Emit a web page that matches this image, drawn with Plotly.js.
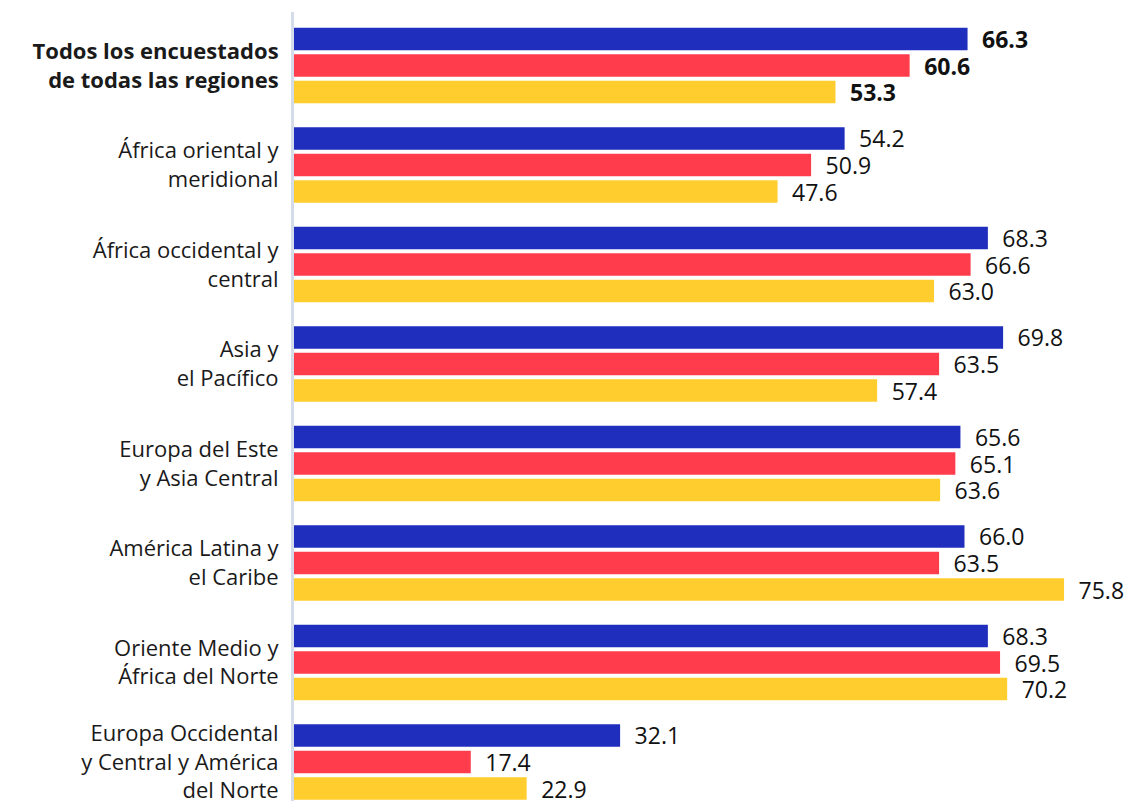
<!DOCTYPE html>
<html><head><meta charset="utf-8">
<script src="https://cdn.plot.ly/plotly-3.0.1.min.js"></script>
<style>html,body{margin:0;padding:0;background:#fff}</style>
</head><body>
<div id="chart" style="width:1124px;height:801px"></div>
<script>
const categories = [
  "<b>Todos los encuestados<br>de todas las regiones</b>",
  "África oriental y<br>meridional",
  "África occidental y<br>central",
  "Asia y<br>el Pacífico",
  "Europa del Este<br>y Asia Central",
  "América Latina y<br>el Caribe",
  "Oriente Medio y<br>África del Norte",
  "Europa Occidental<br>y Central y América<br>del Norte"
];
const blueValues = [66.3, 54.2, 68.3, 69.8, 65.6, 66.0, 68.3, 32.1];
const redValues = [60.6, 50.9, 66.6, 63.5, 65.1, 63.5, 69.5, 17.4];
const yellowValues = [53.3, 47.6, 63.0, 57.4, 63.6, 75.8, 70.2, 22.9];
const seriesColors = ['#1f2ebd', '#fe3c4c', '#ffcd2e'];

const FONT = '"Open Sans", Roboto, sans-serif';
function labels(vals){
  return vals.map((v,i)=> '\u2002' + (i===0 ? '<b>'+v.toFixed(1)+'</b>' : v.toFixed(1)));
}
const traces = [blueValues, redValues, yellowValues].map((vals, k) => ({
  type: 'bar',
  orientation: 'h',
  y: categories,
  x: vals,
  text: labels(vals),
  textposition: 'outside',
  constraintext: 'none',
  cliponaxis: false,
  outsidetextfont: {family: FONT, size: 23, color: '#111'},
  marker: {color: seriesColors[k], line: {width: 0}},
  hoverinfo: 'skip'
}));

const layout = {
  width: 1124, height: 801,
  margin: {l: 294, r: 0, t: 12, b: 0},
  paper_bgcolor: '#fff', plot_bgcolor: '#fff',
  showlegend: false,
  barmode: 'group',
  bargap: 0.2,
  bargroupgap: 0.15,
  font: {family: FONT, size: 22, color: '#1a1a1a'},
  xaxis: {range: [0, 81.7], showgrid: false, zeroline: false, showticklabels: false, showline: false, fixedrange: true},
  yaxis: {
    type: 'category',
    range: [7.392, -0.538],
    showgrid: false, zeroline: false,
    showline: true, linecolor: '#d3dce8', linewidth: 3,
    ticks: 'outside', ticklen: 8, tickcolor: 'rgba(0,0,0,0)',
    tickfont: {family: FONT, size: 22, color: '#1a1a1a'}
  }
};
Plotly.newPlot('chart', traces, layout, {displayModeBar: false, staticPlot: true});
</script>
</body></html>
